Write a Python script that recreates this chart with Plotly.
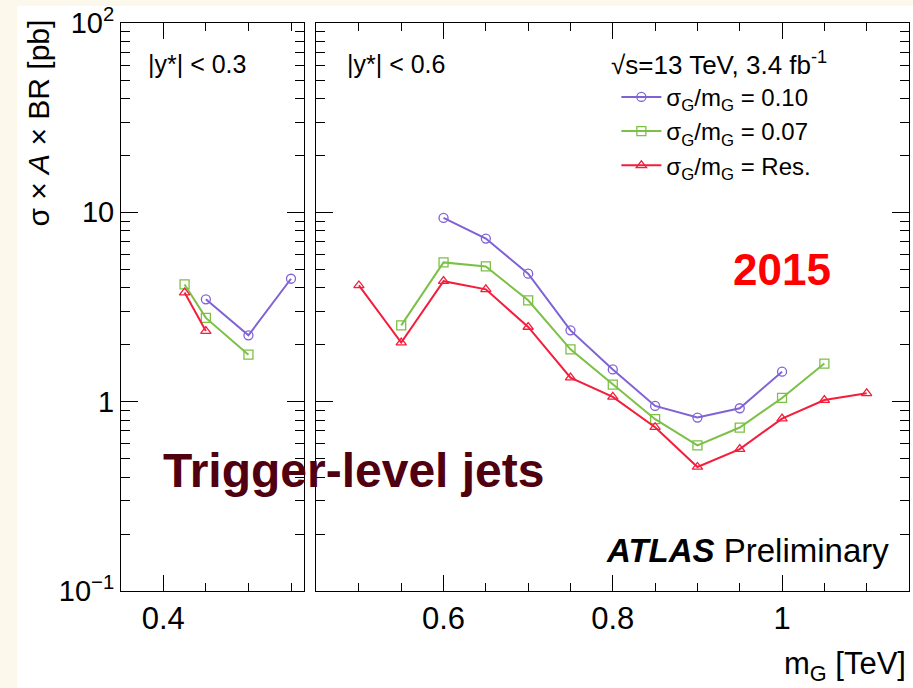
import plotly.graph_objects as go

# ---- data: sigma x A x BR limits [pb] vs m_G [TeV] ----
# |y*| < 0.3 region
low_m_w010 = [0.45, 0.50, 0.55]
low_v_w010 = [3.47, 2.24, 4.46]
low_m_w007 = [0.425, 0.45, 0.50]
low_v_w007 = [4.16, 2.77, 1.77]
low_m_res = [0.425, 0.45]
low_v_res = [3.77, 2.36]

# |y*| < 0.6 region
high_m_w010 = [0.60, 0.65, 0.70, 0.75, 0.80, 0.85, 0.90, 0.95, 1.00]
high_v_w010 = [9.34, 7.27, 4.74, 2.38, 1.48, 0.949, 0.824, 0.923, 1.44]
high_m_w007 = [0.55, 0.60, 0.65, 0.70, 0.75, 0.80, 0.85, 0.90, 0.95, 1.00, 1.05]
high_v_w007 = [2.53, 5.44, 5.18, 3.43, 1.89, 1.23, 0.808, 0.587, 0.730, 1.046, 1.59]
high_m_res = [0.50, 0.55, 0.60, 0.65, 0.70, 0.75, 0.80, 0.85, 0.90, 0.95, 1.00, 1.05, 1.10]
high_v_res = [4.11, 2.05, 4.33, 3.92, 2.48, 1.34, 1.06, 0.733, 0.452, 0.562, 0.814, 1.02, 1.107]

series_names = ["σ<sub>G</sub>/m<sub>G</sub> = 0.10",
                "σ<sub>G</sub>/m<sub>G</sub> = 0.07",
                "σ<sub>G</sub>/m<sub>G</sub> = Res."]
series_colors = ["#7f62d6", "#7cc046", "#f51d3c"]
series_symbols = ["circle-open", "square-open", "triangle-up-open"]

y_tickvals = [0.1, 1, 10, 100]
y_ticktext = ["10<sup>−1</sup>", "1", "10", "10<sup>2</sup>"]

FONT = "Liberation Sans, Arial, Helvetica, sans-serif"
W, H = 913, 688
ML, MR, MT, MB = 121, 3, 21, 97
PW = W - ML - MR
PH = H - MT - MB

fig = go.Figure()

low_sets = [(low_m_w010, low_v_w010), (low_m_w007, low_v_w007), (low_m_res, low_v_res)]
high_sets = [(high_m_w010, high_v_w010), (high_m_w007, high_v_w007), (high_m_res, high_v_res)]

for i, (mx, vy) in enumerate(low_sets):
    fig.add_trace(go.Scatter(
        x=mx, y=vy, xaxis="x", yaxis="y", mode="lines+markers",
        line=dict(color=series_colors[i], width=2),
        marker=dict(symbol=series_symbols[i], size=9, color=series_colors[i],
                    line=dict(width=1.3, color=series_colors[i])),
        name=series_names[i], showlegend=False))

for i, (mx, vy) in enumerate(high_sets):
    fig.add_trace(go.Scatter(
        x=mx, y=vy, xaxis="x2", yaxis="y2", mode="lines+markers",
        line=dict(color=series_colors[i], width=2),
        marker=dict(symbol=series_symbols[i], size=9, color=series_colors[i],
                    line=dict(width=1.3, color=series_colors[i])),
        name=series_names[i], showlegend=True))

axis_common = dict(showline=True, linecolor="black", linewidth=1, mirror="allticks",
                   ticks="inside", tickcolor="black", showgrid=False, zeroline=False)
xtick_font = dict(family=FONT, size=31, color="black")
ytick_font = dict(family=FONT, size=29, color="black")

x_left_dom = [0, (304 - ML) / PW]
x_right_dom = [(316 - ML) / PW, 1]

fig.update_layout(
    width=W, height=H,
    margin=dict(l=ML, r=MR, t=MT, b=MB),
    paper_bgcolor="#fdf8ec", plot_bgcolor="white",
    font=dict(family=FONT, color="black"),
    xaxis=dict(domain=x_left_dom, range=[0.3503, 0.565], tickmode="array",
               tickvals=[0.4], ticktext=["0.4"], ticklen=16, tickfont=xtick_font,
               minor=dict(ticks="inside", ticklen=8, dtick=0.05, tick0=0, tickcolor="black"),
               anchor="y", **axis_common),
    yaxis=dict(domain=[0, 1], type="log", range=[-1, 2], tickmode="array",
               tickvals=y_tickvals, ticktext=y_ticktext, ticklen=17, tickfont=ytick_font,
               minor=dict(ticks="inside", ticklen=9, dtick="D1", tickcolor="black"),
               anchor="x", **axis_common),
    xaxis2=dict(domain=x_right_dom, range=[0.449, 1.150], tickmode="array",
                tickvals=[0.6, 0.8, 1.0], ticktext=["0.6", "0.8", "1"], ticklen=16,
                tickfont=xtick_font,
                minor=dict(ticks="inside", ticklen=8, dtick=0.05, tick0=0, tickcolor="black"),
                anchor="y2", **axis_common),
    yaxis2=dict(domain=[0, 1], type="log", range=[-1, 2], tickmode="array",
                tickvals=y_tickvals, ticktext=y_ticktext, ticklen=17, showticklabels=False,
                tickfont=ytick_font,
                minor=dict(ticks="inside", ticklen=9, dtick="D1", tickcolor="black"),
                anchor="x2", **axis_common),
    legend=dict(x=(617 - ML) / PW, y=1 - (73 - MT) / PH, xanchor="left", yanchor="top",
                bgcolor="rgba(0,0,0,0)", font=dict(family=FONT, size=24, color="black"),
                tracegroupgap=0, itemwidth=40),
    showlegend=True,
)

# white page area (cream strip remains along top and left edges)
fig.add_shape(type="rect", xref="paper", yref="paper", layer="below",
              x0=(17 - ML) / PW, x1=1 + (MR + 2) / PW, y0=-(MB + 2) / PH, y1=1 + (MT - 4) / PH,
              fillcolor="white", line=dict(width=0))


def px_x(px):
    return (px - ML) / PW


def px_y(py):
    return 1 - (py - MT) / PH


def note(text, x, y, size, xanchor="left", yanchor="middle", color="black", angle=0):
    fig.add_annotation(text=text, x=px_x(x), y=px_y(y), xref="paper", yref="paper",
                       xanchor=xanchor, yanchor=yanchor, showarrow=False, textangle=angle,
                       font=dict(family=FONT, size=size, color=color))


note("|y*| < 0.3", 146, 62, 25)
note("|y*| < 0.6", 345, 62, 25)
note("√s=13 TeV, 3.4 fb<sup>-1</sup>", 610, 62, 26)
note("<b>2015</b>", 783, 268, 44, xanchor="center", color="#ff0000")
note("<b>Trigger-level jets</b>", 161, 470, 48, color="#50000f")
note("<b><i>ATLAS</i></b> Preliminary", 892, 550, 33, xanchor="right")
note("m<sub>G</sub> [TeV]", 909, 666, 31, xanchor="right")
note("σ × <i>A</i> × BR [pb]", 38, 16, 30, xanchor="center", yanchor="top", angle=-90)

fig.write_html("out.html")
